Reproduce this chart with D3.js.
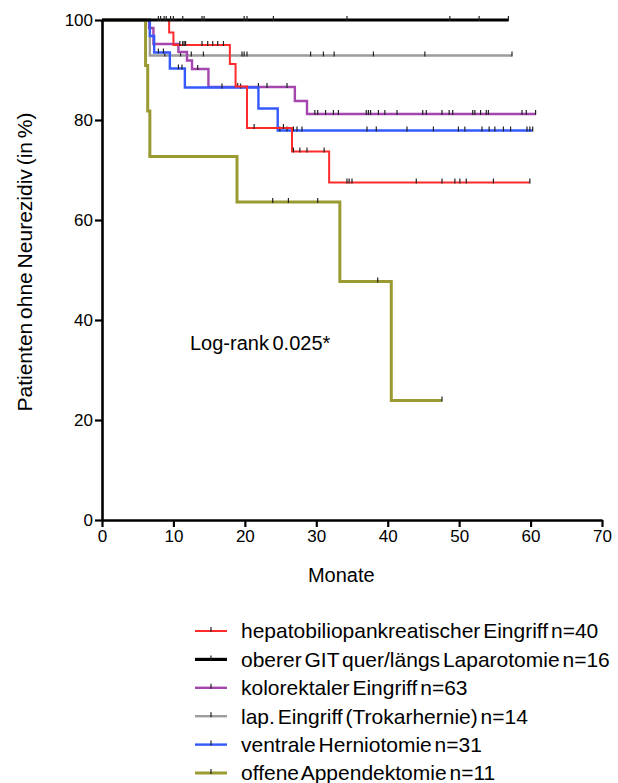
<!DOCTYPE html>
<html>
<head>
<meta charset="utf-8">
<script src="https://cdn.jsdelivr.net/npm/d3@7"></script>
<style>
  body { margin: 0; background: #fff; }
  svg { font-family: "Liberation Sans", Arial, sans-serif; }
</style>
</head>
<body>
<script>
// Kaplan-Meier curves: steps are [month, survival % after the event], censored are months
var redSteps = [[9.4, 97.5], [10.0, 95.0], [17.9, 91.2], [18.7, 86.7], [20.3, 78.4], [26.6, 73.7], [31.8, 67.5]];
var redCensored = [10.9, 11.3, 11.5, 11.7, 14.0, 14.8, 15.5, 16.2, 17.0, 21.3, 25.4, 26.8, 27.7, 28.7, 31.1,
  34.3, 34.6, 35.0, 44.0, 47.6, 49.4, 50.1, 51.0, 54.8, 59.9];

var blackSteps = [];
var blackCensored = [7.9, 8.2, 8.7, 9.0, 9.6, 10.0, 11.3, 14.0, 14.3, 19.9, 20.3, 24.0, 34.3, 48.7, 52.8, 56.9];

var purpleSteps = [[6.6, 98.4], [7.2, 95.2], [10.7, 93.6], [11.9, 91.9], [12.6, 90.2], [14.9, 86.6], [27.0, 83.8], [28.7, 81.2]];
var purpleCensored = [13.4, 19.0, 21.9, 23.1, 25.9, 29.8, 30.2, 31.3, 32.4, 33.1, 37.0, 37.3, 37.6, 38.7, 39.6, 41.3,
  44.9, 45.4, 47.6, 48.6, 49.1, 51.9, 52.2, 53.0, 53.8, 54.1, 58.8, 59.4, 60.7];

var graySteps = [[6.7, 92.9]];
var grayCensored = [8.8, 11.0, 12.5, 14.2, 19.6, 19.9, 20.3, 29.2, 31.0, 32.5, 38.0, 45.2, 57.4];

var blueSteps = [[6.7, 96.8], [7.3, 93.5], [9.5, 90.3], [11.6, 86.5], [21.9, 82.3], [24.6, 77.9]];
var blueCensored = [7.9, 8.6, 10.7, 11.2, 16.8, 19.4, 24.9, 25.9, 26.8, 27.3, 28.0, 37.1, 38.4, 42.7, 46.4, 49.9, 50.8,
  53.2, 54.2, 55.0, 56.2, 57.2, 59.5, 59.9, 60.3];

var oliveSteps = [[6.1, 90.9], [6.4, 81.8], [6.7, 72.7], [18.9, 63.6], [33.3, 47.7], [40.5, 23.9]];
var oliveCensored = [23.9, 26.1, 30.2, 38.6, 47.6];

var groupNames = [
  "hepatobiliopankreatischer Eingriff n=40",
  "oberer GIT quer/längs Laparotomie n=16",
  "kolorektaler Eingriff n=63",
  "lap. Eingriff (Trokarhernie) n=14",
  "ventrale Herniotomie n=31",
  "offene Appendektomie n=11"
];
var xTicks = [0, 10, 20, 30, 40, 50, 60, 70];
var yTicks = [0, 20, 40, 60, 80, 100];

var groups = [
  {name: groupNames[0], steps: redSteps, censored: redCensored, color: "#ff2b2b", w: 2},
  {name: groupNames[1], steps: blackSteps, censored: blackCensored, color: "#000000", w: 3.2},
  {name: groupNames[2], steps: purpleSteps, censored: purpleCensored, color: "#a446ad", w: 2.4},
  {name: groupNames[3], steps: graySteps, censored: grayCensored, color: "#9c9c9c", w: 2.4},
  {name: groupNames[4], steps: blueSteps, censored: blueCensored, color: "#3359ff", w: 2.4},
  {name: groupNames[5], steps: oliveSteps, censored: oliveCensored, color: "#9a9a33", w: 3}
];

var margin = {top: 20, left: 102},
    width = 500,
    height = 500;

var x = d3.scaleLinear().domain([0, 70]).range([0, width]);
var y = d3.scaleLinear().domain([0, 100]).range([height, 0]);

var svg = d3.select("body").append("svg")
    .attr("width", 618)
    .attr("height", 783);

var g = svg.append("g")
    .attr("transform", "translate(" + margin.left + "," + margin.top + ")");

// survival value at time t
function survAt(steps, t) {
  var s = 100;
  steps.forEach(function(d) { if (d[0] <= t) s = d[1]; });
  return s;
}

var line = d3.line()
    .x(function(d) { return x(d[0]); })
    .y(function(d) { return y(d[1]); })
    .curve(d3.curveStepAfter);

// draw order: gray, purple, blue, red, olive, black
var order = [3, 2, 4, 0, 5, 1];
order.forEach(function(i) {
  var grp = groups[i];
  var end = d3.max(grp.censored.concat(grp.steps.map(function(d) { return d[0]; })));
  var pts = [[0, 100]].concat(grp.steps).concat([[end, survAt(grp.steps, end)]]);
  g.append("path")
      .datum(pts)
      .attr("fill", "none")
      .attr("stroke", grp.color)
      .attr("stroke-width", grp.w)
      .attr("d", line);
  g.selectAll(null)
      .data(grp.censored)
    .enter().append("line")
      .attr("x1", function(d) { return x(d); })
      .attr("x2", function(d) { return x(d); })
      .attr("y1", function(d) { return y(survAt(grp.steps, d)) - 4; })
      .attr("y2", function(d) { return y(survAt(grp.steps, d)) + 1; })
      .attr("stroke", "#222")
      .attr("stroke-width", 1.2);
});

// axes
var xAxis = g.append("g")
    .attr("transform", "translate(0," + height + ")")
    .call(d3.axisBottom(x).tickValues(xTicks).tickSize(7).tickPadding(3).tickSizeOuter(0));
var yAxis = g.append("g")
    .call(d3.axisLeft(y).tickValues(yTicks).tickSize(7).tickPadding(2).tickSizeOuter(0));
[xAxis, yAxis].forEach(function(a) {
  a.select(".domain").attr("stroke", "#000").attr("stroke-width", 2.6);
  a.selectAll(".tick line").attr("stroke", "#000").attr("stroke-width", 2.2);
  a.selectAll(".tick text").attr("fill", "#000").style("font-size", "17px")
      .style("font-family", "'Liberation Sans', Arial, sans-serif");
});

svg.append("text")
    .attr("transform", "translate(25,262) rotate(-90)")
    .attr("text-anchor", "middle")
    .attr("dy", "0.35em")
    .style("font-size", "21px")
    .style("word-spacing", "-2px")
    .text("Patienten ohne Neurezidiv (in %)");

svg.append("text")
    .attr("x", margin.left + x(33.5))
    .attr("y", 582)
    .attr("text-anchor", "middle")
    .style("font-size", "20px")
    .text("Monate");

svg.append("text")
    .attr("x", 190)
    .attr("y", 350)
    .style("font-size", "20px")
    .style("word-spacing", "-2px")
    .text("Log-rank 0.025*");

// legend
var legend = svg.append("g")
    .attr("transform", "translate(195,631)");
groups.forEach(function(grp, i) {
  var row = legend.append("g").attr("transform", "translate(0," + (i * 28.4) + ")");
  row.append("line")
      .attr("x1", 0).attr("x2", 32)
      .attr("stroke", grp.color)
      .attr("stroke-width", grp.w);
  row.append("line")
      .attr("x1", 16).attr("x2", 16)
      .attr("y1", -4).attr("y2", 1)
      .attr("stroke", "#222")
      .attr("stroke-width", 1.2);
  row.append("text")
      .attr("x", 46)
      .attr("dy", "0.35em")
      .style("font-size", "21px")
      .style("word-spacing", "-3px")
      .text(grp.name);
});
</script>
</body>
</html>
